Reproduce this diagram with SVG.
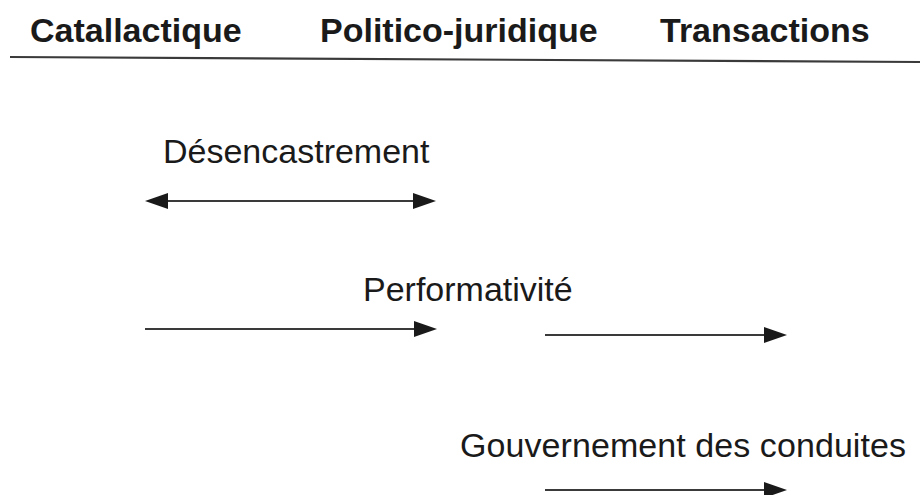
<svg xmlns="http://www.w3.org/2000/svg" width="920" height="495" viewBox="0 0 920 495">
<style>
.h{font-family:"Liberation Sans",Arial,sans-serif;font-weight:bold;font-size:34px;fill:#1a1a1a}
.t{font-family:"Liberation Sans",Arial,sans-serif;font-size:34px;fill:#1a1a1a}
.ln{stroke:#3a3a3a;stroke-width:2.2;fill:none}
.ah{fill:#1a1a1a}
</style>
<rect width="920" height="495" fill="#fff"/>
<g id="headers">
<text id="h1" class="h" x="30" y="42">Catallactique</text>
<text id="h2" class="h" x="320" y="42">Politico-juridique</text>
<text id="h3" class="h" x="660" y="42">Transactions</text>
<line class="ln" x1="10" y1="57" x2="920" y2="62"/>
</g>
<g id="labels">
<text id="l1" class="t" x="163" y="163">Désencastrement</text>
<text id="l2" class="t" x="363" y="301">Performativité</text>
<text id="l3" class="t" x="460" y="457" textLength="446">Gouvernement des conduites</text>
</g>
<g id="connectors">
<line class="ln" x1="160" y1="201" x2="420" y2="201"/>
<polygon class="ah" points="145,201 168,193 168,209"/>
<polygon class="ah" points="436,201 413,193 413,209"/>
<line class="ln" x1="145" y1="329" x2="420" y2="329"/>
<polygon class="ah" points="437,329 414,321 414,337"/>
<line class="ln" x1="545" y1="335" x2="770" y2="335"/>
<polygon class="ah" points="787,335 764,327 764,343"/>
<line class="ln" x1="545" y1="490" x2="770" y2="490"/>
<polygon class="ah" points="787,490 764,482 764,498"/>
</g>
</svg>
